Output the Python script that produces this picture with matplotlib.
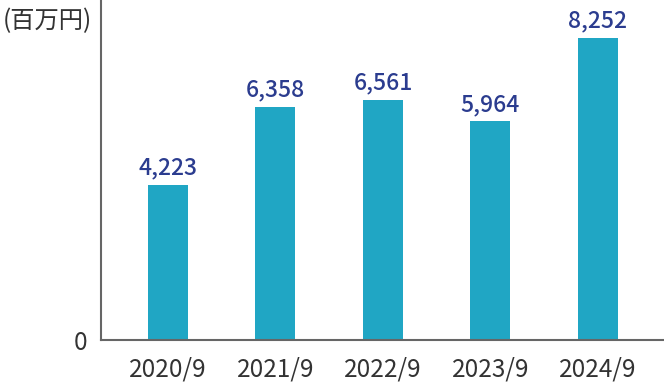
import matplotlib
matplotlib.use("Agg")
import matplotlib.pyplot as plt

categories = ["2020/9", "2021/9", "2022/9", "2023/9", "2024/9"]
values = [4223, 6358, 6561, 5964, 8252]
value_labels = ["4,223", "6,358", "6,561", "5,964", "8,252"]
unit_label = "(百万円)"

plt.rcParams['font.family'] = ['Noto Sans CJK JP', 'DejaVu Sans']

fig = plt.figure(figsize=(6.64, 3.82), dpi=100)
ax = fig.add_axes([101/664, 42/382, 1 - 101/664, 340/382])

x = list(range(len(categories)))
ax.bar(x, values, width=0.372, color="#20a6c4", zorder=2)
for xi, v, lab in zip(x, values, value_labels):
    ax.annotate(lab, (xi, v), xytext=(0, 4), textcoords="offset points",
                ha="center", va="bottom", fontsize=16.5, color="#2b3c8f",
                fontweight="medium")

ax.set_xlim(-0.623, 4.614)
ax.set_ylim(0, 9280)
ax.set_xticks(x)
ax.set_xticklabels(categories, fontsize=17.5, color="#333333")
ax.set_yticks([0])
ax.set_yticklabels(["0"], fontsize=17.5, color="#333333")
ax.tick_params(axis="both", length=0)
ax.tick_params(axis="x", pad=12)
ax.tick_params(axis="y", pad=10)
for s in ["top", "right"]:
    ax.spines[s].set_visible(False)
for s in ["left", "bottom"]:
    ax.spines[s].set_color("#666666")
    ax.spines[s].set_linewidth(1.5)

fig.text(3/664, 1 - 21/382, unit_label, fontsize=17.5, color="#333333",
         ha="left", va="center")

fig.savefig("out.png", dpi=100)
